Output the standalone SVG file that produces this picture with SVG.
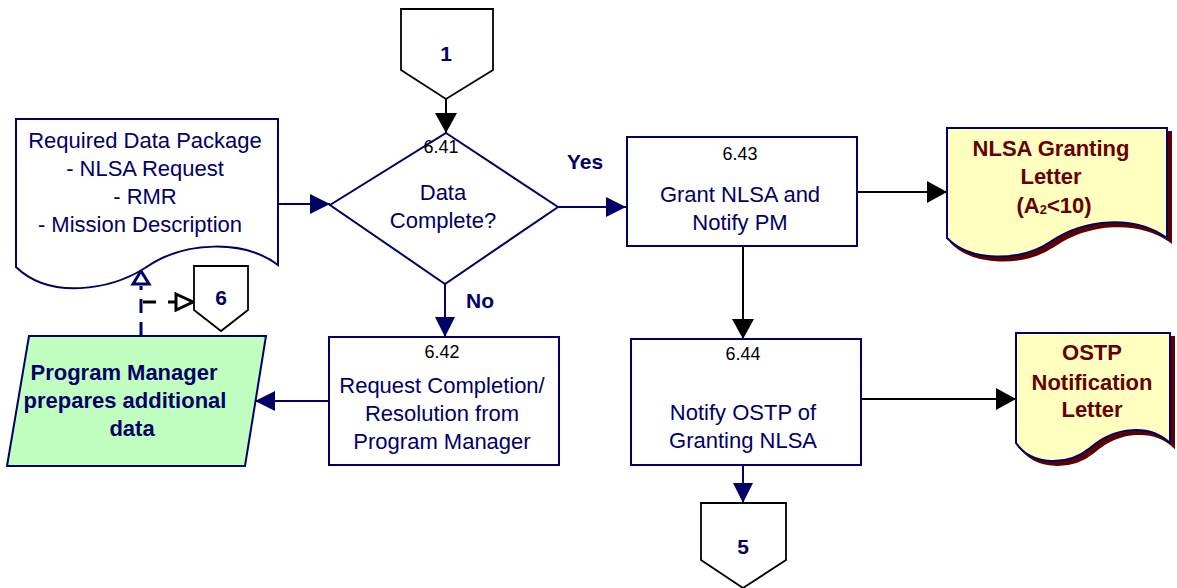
<svg xmlns="http://www.w3.org/2000/svg" width="1177" height="588" viewBox="0 0 1177 588">
<style>
  text { font-family: "Liberation Sans", Arial, sans-serif; text-anchor: middle; }
  .t { font-size: 22px; fill: #000066; }
  .tb { font-size: 22px; fill: #000066; font-weight: bold; }
  .num { font-size: 18px; fill: #000000; }
  .lbl { font-size: 21px; fill: #000066; font-weight: bold; }
  .mar { font-size: 22px; fill: #660000; font-weight: bold; }
  .box { fill: #ffffff; stroke: #000066; stroke-width: 2; }
  .off { fill: #ffffff; stroke: #000000; stroke-width: 1.8; }
  .doc { fill: #ffffff; stroke: #000066; stroke-width: 2; }
  .ydoc { fill: #ffffc0; stroke: #000066; stroke-width: 2; }
  .shadow { fill: #5c0000; stroke: #5c0000; stroke-width: 2; }
  .cn { fill: none; stroke: #000066; stroke-width: 2; }
  .ck { fill: none; stroke: #000000; stroke-width: 2; }
</style>
<defs>
  <marker id="ahNavy" markerUnits="userSpaceOnUse" viewBox="0 0 20 20" refX="20" refY="10" markerWidth="20" markerHeight="20" orient="auto">
    <path d="M0,0 L20,10 L0,20 z" fill="#000066"/>
  </marker>
  <marker id="ahBlack" markerUnits="userSpaceOnUse" viewBox="0 0 20 22" refX="20" refY="11" markerWidth="20" markerHeight="22" orient="auto">
    <path d="M0,0 L20,11 L0,22 z" fill="#000000"/>
  </marker>
  <marker id="ahOpenBlack" markerUnits="userSpaceOnUse" viewBox="-2 -2 22 20" refX="18" refY="8" markerWidth="22" markerHeight="20" orient="auto">
    <path d="M0,0 L17,8 L0,16 z" fill="#ffffff" stroke="#000000" stroke-width="3"/>
  </marker>
</defs>

<g id="connectors">
  <line class="ck" x1="446" y1="99" x2="446" y2="133" marker-end="url(#ahBlack)"/>
  <line class="cn" x1="278" y1="204" x2="330" y2="204" marker-end="url(#ahNavy)"/>
  <line class="cn" x1="558" y1="207" x2="626" y2="207" marker-end="url(#ahNavy)"/>
  <line class="cn" x1="445" y1="284" x2="445" y2="337" marker-end="url(#ahNavy)"/>
  <line class="cn" x1="329" y1="401" x2="255" y2="401" marker-end="url(#ahNavy)"/>
  <line class="ck" x1="857" y1="192" x2="947" y2="192" marker-end="url(#ahBlack)"/>
  <line class="ck" x1="743" y1="246" x2="743" y2="339" marker-end="url(#ahBlack)"/>
  <line class="ck" x1="861" y1="399" x2="1016" y2="399" marker-end="url(#ahBlack)"/>
  <line class="cn" x1="743" y1="465" x2="743" y2="503" marker-end="url(#ahNavy)"/>
  <line x1="141" y1="336" x2="141" y2="286" stroke="#000066" stroke-width="3" stroke-dasharray="14,9"/>
  <polygon points="141,271 149,284 133,284" fill="#ffffff" stroke="#000066" stroke-width="3"/>
  <line x1="143" y1="302" x2="194" y2="302" stroke="#000000" stroke-width="3" stroke-dasharray="13,12" marker-end="url(#ahOpenBlack)"/>
</g>

<g id="off1">
  <polygon class="off" points="401,9 493,9 493,70 446,99 401,70"/>
  <text class="lbl" x="446" y="61">1</text>
</g>

<g id="reqdata">
  <path class="doc" d="M16,119 H278 V265 C245,240 185,240 145,268 C110,290 50,300 16,267 Z"/>
  <text class="t" x="145" y="148">Required Data Package</text>
  <text class="t" x="145" y="176">- NLSA Request</text>
  <text class="t" x="145" y="204">- RMR</text>
  <text class="t" x="140" y="232">- Mission Description</text>
</g>

<g id="off6">
  <polygon class="off" points="194,266 248,266 248,310 221,331 194,310"/>
  <text class="lbl" x="221" y="305">6</text>
</g>

<g id="d641">
  <polygon class="box" points="446,133 558,207 445,284 330,205"/>
  <text class="num" x="441" y="153">6.41</text>
  <text class="t" x="443" y="200">Data</text>
  <text class="t" x="443" y="228">Complete?</text>
</g>
<text class="lbl" x="585" y="169">Yes</text>
<text class="lbl" x="480" y="308">No</text>

<g id="pm">
  <polygon points="29,336 266,336 245,466 7,466" fill="#c0ffc0" stroke="#000066" stroke-width="2"/>
  <text class="tb" x="124" y="380">Program Manager</text>
  <text class="tb" x="125" y="408">prepares additional</text>
  <text class="tb" x="132" y="436">data</text>
</g>

<g id="b642">
  <rect class="box" x="329" y="337" width="230" height="128"/>
  <text class="num" x="442" y="358">6.42</text>
  <text class="t" x="442" y="393">Request Completion/</text>
  <text class="t" x="442" y="421">Resolution from</text>
  <text class="t" x="442" y="449">Program Manager</text>
</g>

<g id="b643">
  <rect class="box" x="627" y="137" width="230" height="109"/>
  <text class="num" x="740" y="160">6.43</text>
  <text class="t" x="740" y="202">Grant NLSA and</text>
  <text class="t" x="740" y="230">Notify PM</text>
</g>

<g id="b644">
  <rect class="box" x="631" y="339" width="230" height="126"/>
  <text class="num" x="743" y="360">6.44</text>
  <text class="t" x="743" y="420">Notify OSTP of</text>
  <text class="t" x="743" y="448">Granting NLSA</text>
</g>

<g id="off5">
  <polygon class="off" points="701,503 786,503 786,560 743,588 701,560"/>
  <text class="lbl" x="743" y="554">5</text>
</g>

<g id="nlsadoc">
  <path class="shadow" transform="translate(4,4)" d="M947,128 H1167 V238 C1135,215 1085,218 1050,242 C1020,262 970,262 947,238 Z"/>
  <path class="ydoc" d="M947,128 H1167 V238 C1135,215 1085,218 1050,242 C1020,262 970,262 947,238 Z"/>
  <text class="mar" x="1051" y="156">NLSA Granting</text>
  <text class="mar" x="1051" y="184">Letter</text>
  <text class="mar" x="1054" y="213">(A<tspan font-size="13" dy="1">2</tspan><tspan dy="-1">&lt;10)</tspan></text>
</g>

<g id="ostpdoc">
  <path class="shadow" transform="translate(4,4)" d="M1016,333 H1170 V443 C1150,424 1115,426 1090,448 C1068,466 1032,466 1016,443 Z"/>
  <path class="ydoc" d="M1016,333 H1170 V443 C1150,424 1115,426 1090,448 C1068,466 1032,466 1016,443 Z"/>
  <text class="mar" x="1092" y="360">OSTP</text>
  <text class="mar" x="1092" y="390">Notification</text>
  <text class="mar" x="1092" y="417">Letter</text>
</g>
</svg>
